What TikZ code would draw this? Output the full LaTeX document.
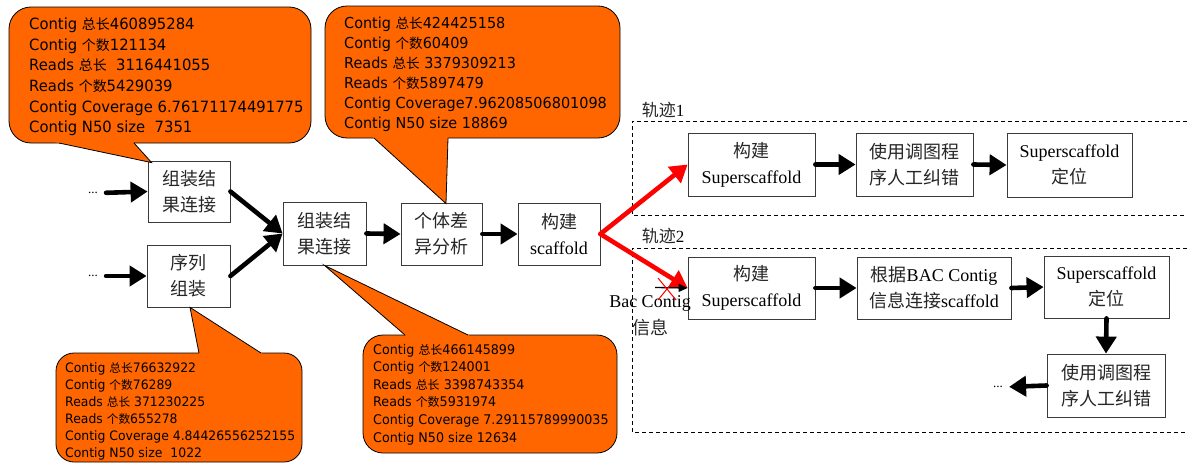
\documentclass[tikz,border=0pt]{standalone}
\usepackage{fontspec}
\setmainfont{Liberation Serif}
\newfontfamily\cjk{Noto Sans CJK SC}
\newfontfamily\cjks[Scale=0.9]{Noto Sans CJK SC}
\newfontfamily\callfont[FakeStretch=0.955]{DejaVu Sans}
\usetikzlibrary{arrows.meta,calc}
\definecolor{calorange}{HTML}{FF6600}
\definecolor{boxline}{HTML}{3A3A3A}

% Chinese words inside boxes and inside the orange notes
\newcommand\zh[1]{{\cjk\color{black!85}#1}}
\newcommand\zhs[1]{{\cjks #1}}

% rounded note with a wedge: corner 1, corner 2, radius, wedge base points, tip
\newcommand\callshape[6]{%
  \filldraw[bubble, rounded corners=#3] (#1) rectangle (#2);
  \fill[calorange] ($(#4)!-0.15!(#6)$) -- ($(#5)!-0.15!(#6)$) -- (#6) -- cycle;
  \draw[bubbleedge] (#4) -- (#6) -- (#5);
}

\begin{document}
\begin{tikzpicture}[x=1pt,y=-1pt,
  stepbox/.style={draw=boxline, line width=0.8pt, fill=white, inner sep=0pt,
    align=center, font=\fontsize{18}{26}\selectfont},
  flow/.style={line width=4.6pt, line cap=round, -{Triangle[length=17pt,width=20pt]}},
  redflow/.style={flow, draw=red},
  bubble/.style={fill=calorange, draw=black, line width=0.8pt},
  bubbleedge/.style={draw=black, line width=0.8pt, line join=miter},
  bubbletext/.style={anchor=north west, inner sep=0pt, align=left},
  tracklabel/.style={font=\fontsize{17}{20}\selectfont, inner sep=0pt},
  dots/.style={font=\fontsize{13}{15}\selectfont, inner sep=2pt},
  track/.style={draw=black, line width=0.8pt, dash pattern=on 4pt off 3pt}
]
\useasboundingbox (0,0) rectangle (1187,463);

% main chain
\node[stepbox, minimum width=82pt, minimum height=61pt] (b1) at (189,191.5) {\zh{组装结}\\\zh{果连接}};
\node[stepbox, minimum width=83pt, minimum height=62pt] (b2) at (188.5,276) {\zh{序列}\\\zh{组装}};
\node[stepbox, minimum width=83pt, minimum height=63pt] (b3) at (324.5,233.5) {\zh{组装结}\\\zh{果连接}};
\node[stepbox, minimum width=81pt, minimum height=62pt] (b4) at (441.5,234) {\zh{个体差}\\\zh{异分析}};
\node[stepbox, minimum width=82pt, minimum height=62pt] (b5) at (559,234) {\zh{构建}\\scaffold};

\node[dots] (d1) at (93,193) {...};
\node[dots] (d2) at (93,276) {...};

% track frames
\draw[track] (1187,121) -- (632,121) -- (632,215) -- (1187,215);
\draw[track] (1187,248) -- (632,248) -- (632,432) -- (1187,432);
\node[tracklabel] (lab1) at (663,110) {\zh{轨迹}1};
\node[tracklabel] (lab2) at (663,236) {\zh{轨迹}2};

% track 1
\node[stepbox, minimum width=127pt, minimum height=63pt] (t1a) at (751.5,164.5) {\zh{构建}\\Superscaffold};
\node[stepbox, minimum width=117pt, minimum height=63pt] (t1b) at (914.5,164.5) {\zh{使用调图程}\\\zh{序人工纠错}};
\node[stepbox, minimum width=125pt, minimum height=64pt] (t1c) at (1069.5,165) {Superscaffold\\\zh{定位}};

% track 2
\node[stepbox, minimum width=127pt, minimum height=62pt] (t2a) at (751.5,288) {\zh{构建}\\Superscaffold};
\node[stepbox, minimum width=154pt, minimum height=62pt] (t2b) at (934,288) {\zh{根据}BAC Contig\\\zh{信息连接}scaffold};
\node[stepbox, minimum width=125pt, minimum height=62pt] (t2c) at (1106.5,287) {Superscaffold\\\zh{定位}};
\node[stepbox, minimum width=118pt, minimum height=63pt] (t2d) at (1106,385.5) {\zh{使用调图程}\\\zh{序人工纠错}};
\node[dots] (d3) at (998,387) {...};

\node[align=center, font=\fontsize{18}{27}\selectfont, inner sep=0pt] (bac) at (650,316) {Bac Contig\\\zh{信息}};

% connectors
\draw[flow, shorten <=6pt] (d1.east) -- (b1.west);
\draw[flow, shorten <=6pt] (d2.east) -- (b2.west);
\draw[flow] (b1.east) -- (b3.west);
\draw[flow] (b2.east) -- (b3.west);
\draw[flow] (b3.east) -- (b4.west);
\draw[flow] (b4.east) -- (b5.west);
\draw[redflow] (b5.east) -- (t1a.west);
\draw[redflow] (b5.east) -- (t2a.west);
\draw[flow] (t1a.east) -- (t1b.west);
\draw[flow] (t1b.east) -- (t1c.west);
\draw[flow] (t2a.east) -- (t2b.west);
\draw[flow] (t2b.east) -- (t2c.west);
\draw[flow] (t2c.south) -- (t2d.north);
\draw[flow, shorten >=4pt] (t2d.west) -- (d3.east);

% crossed-out BAC input
\coordinate (bacin) at (655,287.5);
\draw[line width=1.3pt, -{Triangle[length=9pt,width=8pt]}] (bacin) -- (t2a.west);
\coordinate (cross) at (667,289);
\draw[red, line width=1pt] ($(cross)+(-9,-11)$) -- ($(cross)+(9,11)$);
\draw[red, line width=1pt] ($(cross)+(-9,11)$) -- ($(cross)+(9,-11)$);

% orange notes
\coordinate (tip1) at ($(b1.north west)+(4,2)$);
\coordinate (tip2) at ($(b4.north)+(4.5,1)$);
\coordinate (tip3) at ($(b2.south)+(1.5,0)$);
\coordinate (tip4) at (b3.south);

\callshape{9,7}{311,143}{22pt}{59,143}{134,143}{tip1}
\callshape{325,6}{620,138}{22pt}{374,138}{448,138}{tip2}
\callshape{56,353}{302,462}{18pt}{199,353}{261,353}{tip3}
\callshape{363,335}{617,453}{20pt}{405,335}{468,335}{tip4}

\node[bubbletext, font=\callfont\fontsize{15.5}{20.6}\selectfont] (n1) at (29,17.7)
 {Contig \zhs{总长}460895284\\
  Contig \zhs{个数}121134\\
  Reads \zhs{总长}\ \ 3116441055\\
  Reads \zhs{个数}5429039\\
  Contig Coverage 6.76171174491775\\
  Contig N50 size\ \ 7351};
\node[bubbletext, font=\callfont\fontsize{15.1}{20}\selectfont] (n2) at (344,16.9)
 {Contig \zhs{总长}424425158\\
  Contig \zhs{个数}60409\\
  Reads \zhs{总长} 3379309213\\
  Reads \zhs{个数}5897479\\
  Contig Coverage7.96208506801098\\
  Contig N50 size 18869};
\node[bubbletext, font=\callfont\fontsize{13}{17}\selectfont] (n3) at (65,362)
 {Contig \zhs{总长}76632922\\
  Contig \zhs{个数}76289\\
  Reads \zhs{总长} 371230225\\
  Reads \zhs{个数}655278\\
  Contig Coverage 4.84426556252155\\
  Contig N50 size\ \ 1022};
\node[bubbletext, font=\callfont\fontsize{13.3}{17.6}\selectfont] (n4) at (373,343.7)
 {Contig \zhs{总长}466145899\\
  Contig \zhs{个数}124001\\
  Reads \zhs{总长} 3398743354\\
  Reads \zhs{个数}5931974\\
  Contig Coverage 7.29115789990035\\
  Contig N50 size 12634};
\end{tikzpicture}
\end{document}
